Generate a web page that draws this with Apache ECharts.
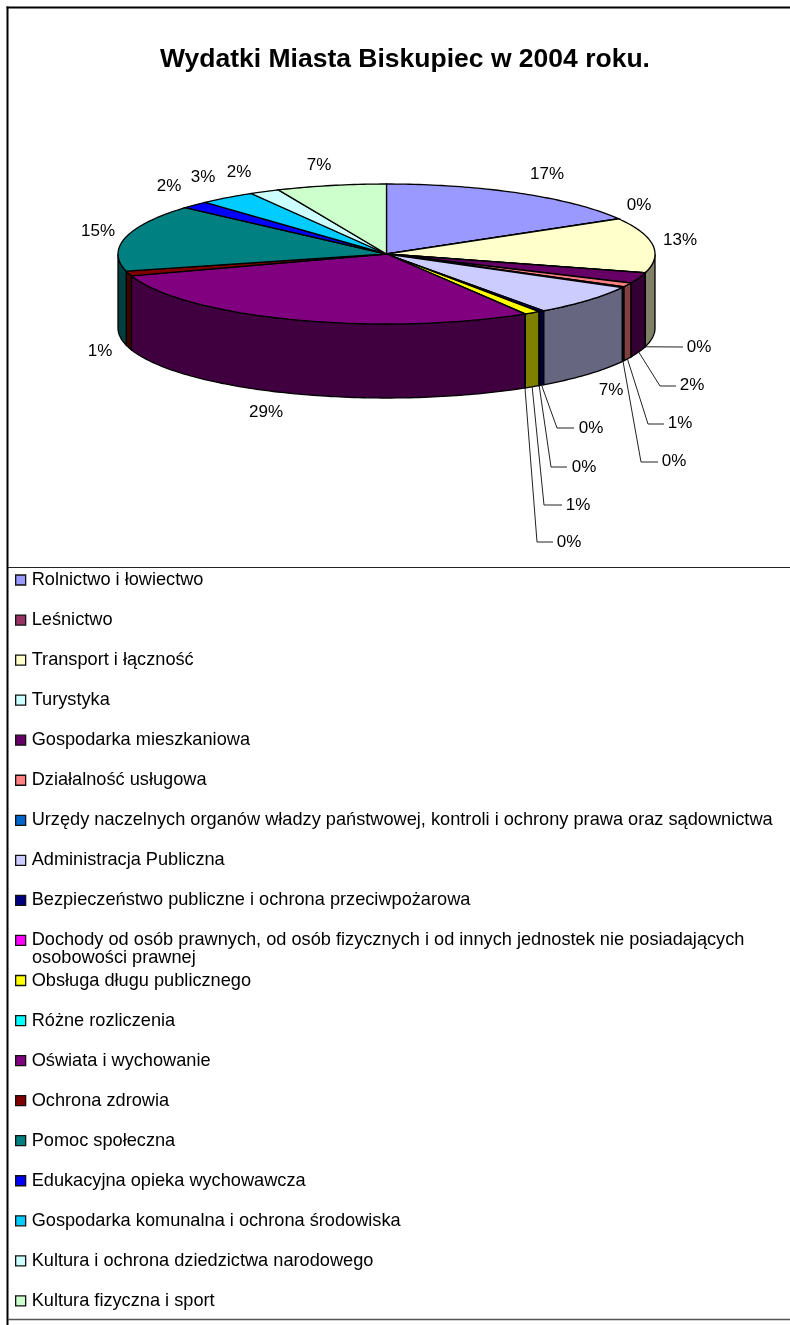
<!DOCTYPE html>
<html>
<head>
<meta charset="utf-8">
<style>html,body{margin:0;padding:0;background:#fff}#c{width:790px;height:1325px}</style>
<script src="https://cdn.jsdelivr.net/npm/echarts@6/dist/echarts.min.js"></script>
</head>
<body>
<div id="c"></div>
<script>
const categories = ['Rolnictwo i łowiectwo','Leśnictwo','Transport i łączność','Turystyka','Gospodarka mieszkaniowa','Działalność usługowa','Urzędy naczelnych organów władzy państwowej, kontroli i ochrony prawa oraz sądownictwa','Administracja Publiczna','Bezpieczeństwo publiczne i ochrona przeciwpożarowa','Dochody od osób prawnych, od osób fizycznych i od innych jednostek nie posiadających','Obsługa długu publicznego','Różne rozliczenia','Oświata i wychowanie','Ochrona zdrowia','Pomoc społeczna','Edukacyjna opieka wychowawcza','Gospodarka komunalna i ochrona środowiska','Kultura i ochrona dziedzictwa narodowego','Kultura fizyczna i sport'];
const wrappedLine = 'osobowości prawnej';
const values = [16.6,0.05,12.65,0.05,2.45,0.95,0.2,7.1,0.3,0.05,0.95,0.05,28.55,1.1,15.45,1.7,3.4,1.8,6.6];
const colors = ['#9999FF','#993366','#FFFFCC','#CCFFFF','#660066','#FF8080','#0066CC','#CCCCFF','#000080','#FF00FF','#FFFF00','#00FFFF','#800080','#800000','#008080','#0000FF','#00CCFF','#CCFFFF','#CCFFCC'];
const titleText = 'Wydatki Miasta Biskupiec w 2004 roku.';

// Layout only: label centres and leader elbows (no data values)
const labelPos = [[547,174],[639,205],[680,240],[699,347],[692,385],[680,423],[674,461],[611,390],[591,428],[584,467],[578,505],[569,542],[266,412],[100,351],[98,231],[169,186],[203,177],[239,172],[319,165]];
const leaderEnd = {3:[[683,347]],4:[[660,386],[676,386]],5:[[648,424],[664,424]],6:[[641,462],[658,462]],8:[[557,428],[574,428]],9:[[551,467],[567,467]],10:[[544,505],[562,505]],11:[[537,542],[553,542]]};
const pie = {cx:386.5, cy:254, rx:268.5, ry:70, depth:74};
const FONT = '"Liberation Sans", Arial, sans-serif';
const total = values.reduce((a,b)=>a+b,0);
const starts = []; values.reduce((a,v,i)=>{starts[i]=a; return a+v;},0);

function pt(t, dy){ return [pie.cx + pie.rx*Math.sin(t), pie.cy - pie.ry*Math.cos(t) + (dy||0)]; }
function arc(a,b,dy){ const n=Math.max(2,Math.ceil(Math.abs(b-a)/(Math.PI/180))); const r=[]; for(let i=0;i<=n;i++) r.push(pt(a+(b-a)*i/n,dy)); return r; }
function shade(hex){ const n=parseInt(hex.slice(1),16); const f=x=>('0'+Math.floor(x/2+ (x%2?1:0)).toString(16)).slice(-2); return '#'+f(n>>16)+f((n>>8)&255)+f(n&255); }

function renderSlice(params, api){
  const i = params.seriesIndex;
  const a = starts[i]/total*2*Math.PI, b = (starts[i]+api.value(0))/total*2*Math.PI;
  const children = [];
  const lo = Math.max(a,Math.PI/2), hi = Math.min(b,Math.PI*1.5);
  if (hi>lo){
    const pts = arc(lo,hi,0).concat(arc(hi,lo,pie.depth));
    children.push({type:'polygon',shape:{points:pts},style:{fill:shade(colors[i]),stroke:'#000',lineWidth:1.3}});
  }
  children.push({type:'polygon',shape:{points:[[pie.cx,pie.cy]].concat(arc(a,b,0))},style:{fill:colors[i],stroke:'#000',lineWidth:1.3}});
  const m=(a+b)/2;
  if (leaderEnd[i]){
    const onSide = m>Math.PI/2 && m<Math.PI*1.5;
    const s = pt(m,onSide?pie.depth:0);
    children.push({type:'polyline',shape:{points:[s].concat(leaderEnd[i])},style:{fill:'none',stroke:'#222',lineWidth:1},z2:5});
  }
  const p=labelPos[i];
  children.push({type:'text',x:p[0],y:p[1],style:{text:Math.round(api.value(0)/total*100)+'%',font:'17px '+FONT,fill:'#000',align:'center',verticalAlign:'middle'},z2:6});
  return {type:'group',children};
}

const chart = echarts.init(document.getElementById('c'),null,{renderer:'canvas'});
chart.setOption({
  animation:false,
  backgroundColor:'#fff',
  color:colors,
  title:{text:titleText,left:400,top:41,textAlign:'center',textStyle:{fontFamily:FONT,fontWeight:'bold',fontSize:26.5,color:'#000'}},
  legend:{
    orient:'vertical',left:15,top:571,padding:0,itemWidth:10,itemHeight:10,itemGap:22.05,selectedMode:false,icon:'rect',
    data:categories,
    itemStyle:{borderColor:'#111',borderWidth:1.3},
    textStyle:{fontFamily:FONT,fontSize:18.2,color:'#000',lineHeight:18,padding:[0,0,0,1]},
    height:760,width:770
  },
  graphic:[
    {type:'line',shape:{x1:7.5,y1:6.5,x2:7.5,y2:1325},style:{stroke:'#000',lineWidth:2},z:-1},
    {type:'line',shape:{x1:6.5,y1:7.5,x2:790,y2:7.5},style:{stroke:'#000',lineWidth:2},z:-1},
    {type:'line',shape:{x1:8,y1:567.5,x2:790,y2:567.5},style:{stroke:'#222',lineWidth:1},z:-1},
    {type:'line',shape:{x1:8,y1:1319.5,x2:790,y2:1319.5},style:{stroke:'#555',lineWidth:1.5},z:-1},
    {type:'text',x:32,y:958,style:{text:wrappedLine,font:'18.2px '+FONT,fill:'#000',verticalAlign:'middle'}}
  ],
  series:categories.map((name,i)=>({type:'custom',name,coordinateSystem:'none',renderItem:renderSlice,data:[[values[i]]],silent:true,clip:false}))
});
</script>
</body>
</html>
